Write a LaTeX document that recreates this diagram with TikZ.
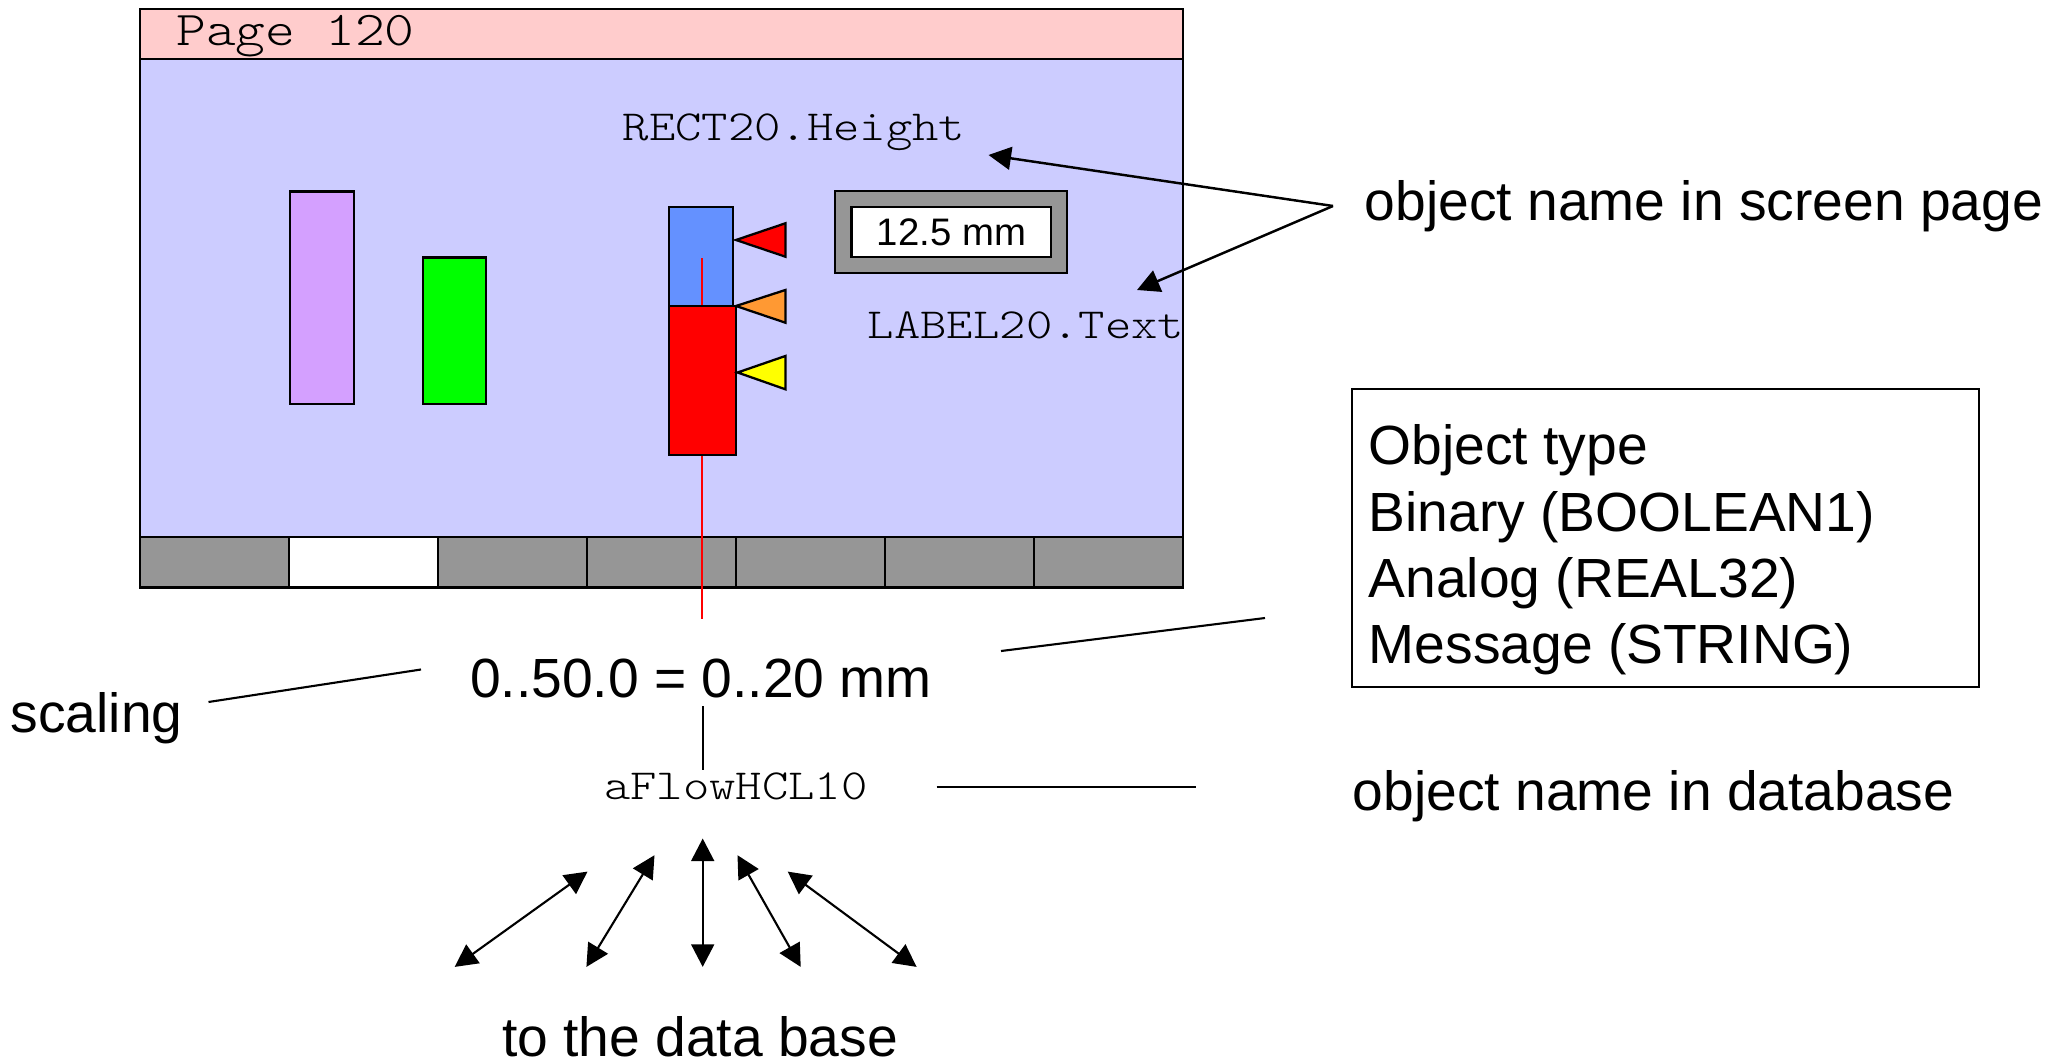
\documentclass[tikz,border=0pt]{standalone}
\usepackage{fontspec}
\setmainfont{Liberation Sans}
\setmonofont{lmmonolt10-regular.otf}[FakeStretch=1.17]
\usetikzlibrary{arrows.meta}
\definecolor{titlepink}{RGB}{255,204,204}
\definecolor{pagebg}{RGB}{204,204,255}
\definecolor{tabgray}{RGB}{150,150,150}
\definecolor{barpurple}{RGB}{212,160,255}
\definecolor{bargreen}{RGB}{0,255,0}
\definecolor{barblue}{RGB}{100,145,255}
\definecolor{flagorange}{RGB}{255,153,51}
\definecolor{flagyellow}{RGB}{255,255,0}
\definecolor{barred}{RGB}{255,0,0}
\tikzset{
  frame/.style={draw=black, line width=0.65pt},
  sanstext/.style={inner sep=0pt, font=\fontsize{15.7pt}{18.8pt}\selectfont},
  monotext/.style={inner sep=0pt, font=\ttfamily\fontsize{12.2pt}{14pt}\selectfont},
  conn/.style={line width=0.6pt},
  dbl/.style={line width=0.6pt, {Triangle[length=6.4pt,width=6.5pt]}-{Triangle[length=6.4pt,width=6.5pt]}},
  ptr/.style={line width=0.7pt, -{Triangle[length=6.4pt,width=6.5pt]}},
}
\begin{document}
\begin{tikzpicture}[x=0.01cm,y=-0.01cm]
\useasboundingbox[fill=white] (0,0) rectangle (2066,1064);
% screen page frame
\draw[frame, fill=titlepink] (140,9) rectangle (1183,59);
\draw[frame, fill=pagebg] (140,59) rectangle (1183,537);
\foreach \i in {0,...,6} {
  \ifnum\i=1
    \draw[frame, fill=white] ({140+149*\i},537) rectangle ({140+149*(\i+1)},587.5);
  \else
    \draw[frame, fill=tabgray] ({140+149*\i},537) rectangle ({140+149*(\i+1)},587.5);
  \fi
}
\node[monotext, font=\ttfamily\fontsize{13.8pt}{15pt}\selectfont, anchor=base] (pagetitle) at (295.5,46) {Page 120};
% bars
\draw[frame, fill=barpurple] (289.7,191.4) rectangle (353.8,403.7);
\draw[frame, fill=bargreen] (422.8,257.6) rectangle (486.2,403.7);
\draw[frame, fill=barblue] (669.2,207) rectangle (733.2,306);
\draw[draw=barred, line width=0.5pt] (702.3,258.5) -- (702.3,619.4);
\draw[frame, fill=barred] (669.2,306) rectangle (735.8,455);
% flags
\draw[frame, fill=barred] (736,240) -- (785.4,223.3) -- (785.4,256.7) -- cycle;
\draw[frame, fill=flagorange] (736,306) -- (785.4,290) -- (785.4,322.7) -- cycle;
\draw[frame, fill=flagyellow] (737.6,372.5) -- (785.4,356) -- (785.4,389.3) -- cycle;
% value display
\draw[frame, fill=tabgray] (835.3,190.7) rectangle (1066.9,273.3);
\draw[frame, fill=white] (851.6,207) rectangle (1051,256.7);
\node[inner sep=0pt, anchor=base, font=\fontsize{10.9pt}{13pt}\selectfont] (valtext) at (951.5,246) {12.5 mm};
% object names on screen page
\node[monotext, anchor=base] (rectname) at (794,141) {RECT20.Height};
\node[monotext, anchor=base] (labelname) at (1026,339) {LABEL20.Text};
% annotation: object name in screen page
\node[sanstext, anchor=base west] (screenlbl) at (1364,220.5) {object name in screen page};
\coordinate (src) at (1333,206);
\coordinate (rectpt) at (988.5,155);
\coordinate (labelpt) at (1137,290);
\draw[ptr] (src) -- (rectpt);
\draw[ptr] (src) -- (labelpt);
% object type box
\node[draw=black, line width=0.65pt, minimum width=6.27cm, minimum height=2.976cm, inner sep=0pt] (typebox) at (1665.5,537.8) {};
\node[sanstext, anchor=base west] (type0) at (1368,464.7) {Object type};
\node[sanstext, anchor=base west] (type1) at (1368,531.7) {Binary (BOOLEAN1)};
\node[sanstext, anchor=base west] (type2) at (1368,597.8) {Analog (REAL32)};
\node[sanstext, anchor=base west] (type3) at (1368,663.4) {Message (STRING)};
% scaling
\node[sanstext, anchor=base] (scaleval) at (701,698) {0..50.0 = 0..20 mm};
\node[sanstext, anchor=base west] (scalelbl) at (10,732) {scaling};
\coordinate (sclA) at (208.5,702);
\coordinate (sclB) at (421,669.5);
\draw[conn] (sclA) -- (sclB);
\coordinate (typA) at (1001,651);
\coordinate (typB) at (1265,618);
\draw[conn] (typA) -- (typB);
\coordinate (vA) at (702.7,706);
\coordinate (vB) at (702.7,769.5);
\draw[conn] (vA) -- (vB);
% database name
\node[monotext, anchor=base] (dbname) at (735.8,799.7) {aFlowHCL10};
\coordinate (dbA) at (936.5,786.6);
\coordinate (dbB) at (1196.4,786.6);
\draw[conn] (dbA) -- (dbB);
\node[sanstext, anchor=base west] (dblbl) at (1352,810.5) {object name in database};
% arrows to the data base
\coordinate (a1) at (454.7,966.9); \coordinate (b1) at (587.5,871.6);
\coordinate (a2) at (586.4,966.9); \coordinate (b2) at (654.5,855.2);
\coordinate (a3) at (702.7,966.9); \coordinate (b3) at (702.7,838.5);
\coordinate (a4) at (800.7,966.9); \coordinate (b4) at (737.5,855.2);
\coordinate (a5) at (916.6,966.9); \coordinate (b5) at (787.7,871.6);
\draw[dbl] (a1) -- (b1);
\draw[dbl] (a2) -- (b2);
\draw[dbl] (a3) -- (b3);
\draw[dbl] (a4) -- (b4);
\draw[dbl] (a5) -- (b5);
\node[sanstext, anchor=base] (tolbl) at (700,1056) {to the data base};
\end{tikzpicture}
\end{document}
